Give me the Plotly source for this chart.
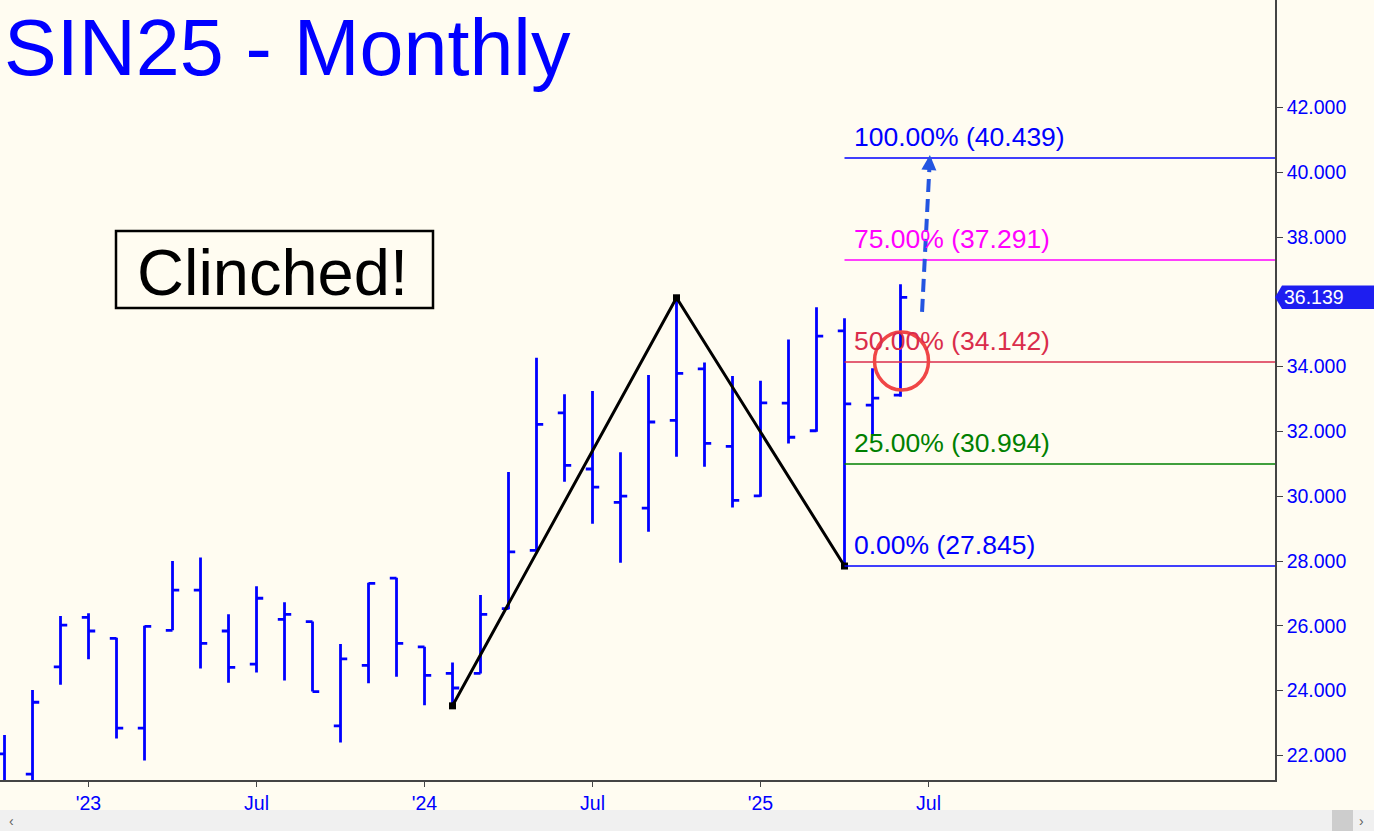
import plotly.graph_objects as go

# monthly bars, SIN25 (silver, July 2025)
months = ["2022-10", "2022-11", "2022-12",
          "2023-01", "2023-02", "2023-03", "2023-04", "2023-05", "2023-06",
          "2023-07", "2023-08", "2023-09", "2023-10", "2023-11", "2023-12",
          "2024-01", "2024-02", "2024-03", "2024-04", "2024-05", "2024-06",
          "2024-07", "2024-08", "2024-09", "2024-10", "2024-11", "2024-12",
          "2025-01", "2025-02", "2025-03", "2025-04", "2025-05", "2025-06"]
opens = [22.05, 21.42, 24.73,
         26.26, 25.61, 22.84, 25.86, 27.10, 25.84,
         24.82, 26.20, 26.13, 22.91, 24.78, 27.47,
         25.35, 24.53, 24.53, 26.53, 28.33, 32.57,
         30.84, 29.81, 29.63, 32.34, 33.93, 31.54,
         30.01, 32.87, 32.02, 35.10, 32.81, 33.12]
highs = [22.63, 24.02, 26.30,
         26.39, 25.63, 26.00, 28.00, 28.11, 26.36,
         27.22, 26.73, 26.13, 25.44, 27.33, 27.48,
         25.35, 24.87, 26.95, 30.75, 34.27, 33.15,
         33.25, 31.36, 33.74, 36.124, 34.13, 33.71,
         33.56, 34.84, 35.83, 35.49, 33.95, 36.54]
lows = [21.00, 21.10, 24.18,
        24.97, 22.52, 21.84, 25.86, 24.68, 24.24,
        24.56, 24.31, 23.97, 22.40, 24.23, 24.43,
        23.55, 23.53, 24.53, 26.51, 28.32, 30.45,
        29.15, 27.95, 28.90, 31.22, 30.91, 29.65,
        29.98, 31.63, 31.99, 27.845, 31.89, 33.07]
closes = [21.20, 23.64, 26.02,
          25.84, 22.84, 25.98, 27.10, 25.46, 24.72,
          26.85, 26.35, 23.97, 24.98, 27.31, 25.46,
          24.47, 24.08, 26.35, 28.28, 32.22, 30.95,
          30.28, 30.00, 32.29, 33.79, 31.63, 29.87,
          32.88, 31.82, 34.94, 32.85, 33.03, 36.139]

# swing points of the ABC pattern
swing_a, swing_b, swing_c = "2024-02", "2024-10", "2025-04"

fib_pcts = ["0.00%", "25.00%", "50.00%", "75.00%", "100.00%"]
fib_values = [27.845, 30.994, 34.142, 37.291, 40.439]
fib_colors = ["#0000FF", "#008000", "rgb(218,45,75)", "#FF00FF", "#0000FF"]

tick_months = ["2023-01", "2023-07", "2024-01", "2024-07", "2025-01", "2025-07"]
tick_text = ["'23", "Jul", "'24", "Jul", "'25", "Jul"]
# 36.000 sits under the last-price tag
y_ticks = [22, 24, 26, 28, 30, 32, 34, 38, 40, 42]

FONT = "Liberation Sans, Arial, sans-serif"
BG = "#FFFCF1"
BLUE = "#0000FF"
X0, X1 = -3.161, 42.375
Y0, Y1 = 21.241, 45.315


def month_index(m):
    y, mo = map(int, m.split("-"))
    return (y - 2023) * 12 + mo - 1


def yp(v):
    return (v - Y0) / (Y1 - Y0)


x = [month_index(m) for m in months]
ia, ib, ic = months.index(swing_a), months.index(swing_b), months.index(swing_c)
x_last = x[-1]

fig = go.Figure()

fig.add_trace(go.Ohlc(
    x=x, open=opens, high=highs, low=lows, close=closes,
    increasing=dict(line=dict(color=BLUE, width=2.8)),
    decreasing=dict(line=dict(color=BLUE, width=2.8)),
    tickwidth=0.24,
    showlegend=False,
    hoverinfo="skip",
))

# A-B-C swing line
fig.add_trace(go.Scatter(
    x=[x[ia], x[ib], x[ic]],
    y=[lows[ia], highs[ib], lows[ic]],
    mode="lines+markers",
    line=dict(color="black", width=3),
    marker=dict(symbol="square", size=7, color="black"),
    showlegend=False,
    hoverinfo="skip",
))

shapes = []
annotations = []

# fib lines + labels
for pct, val, col in zip(fib_pcts, fib_values, fib_colors):
    shapes.append(dict(type="line", xref="x", yref="y", x0=x[ic], x1=X1,
                       y0=val, y1=val, line=dict(color=col, width=1.6)))
    annotations.append(dict(
        x=x[ic], y=val, xref="x", yref="y", xanchor="left", yanchor="bottom",
        xshift=7, yshift=4, showarrow=False, text=f"{pct} ({val:.3f})",
        font=dict(family=FONT, size=26.5, color=col)))

# red circle round the 50% retrace
shapes.append(dict(type="circle", xref="x", yref="y",
                   xsizemode="pixel", ysizemode="pixel",
                   xanchor=x_last, yanchor=fib_values[2],
                   x0=-26, x1=28, y0=-28, y1=30,
                   line=dict(color="rgb(240,70,70)", width=3.5)))

# dashed projection arrow
arrow_col = "rgb(35,85,225)"
shapes.append(dict(type="line", xref="x", yref="y",
                   x0=x_last + 0.77, y0=35.69, x1=x_last + 1.03, y1=40.1,
                   line=dict(color=arrow_col, width=4, dash="13px,7px")))
annotations.append(dict(x=x_last + 1.05, y=40.53, xref="x", yref="y",
                        ax=-1, ay=15, showarrow=True, text="",
                        arrowhead=2, arrowwidth=4, arrowsize=0.75,
                        arrowcolor=arrow_col))

# "Clinched!" box
shapes.append(dict(type="rect", xref="paper", yref="paper",
                   x0=116 / 1275, x1=433 / 1275, y0=1 - 308 / 780, y1=1 - 231 / 780,
                   line=dict(color="black", width=2.5), fillcolor=BG))
annotations.append(dict(x=272 / 1275, y=1 - 272 / 780, xref="paper", yref="paper",
                        xanchor="center", yanchor="middle", showarrow=False,
                        text="Clinched!", font=dict(family=FONT, size=65, color="black")))

# title
annotations.append(dict(x=0, y=1, xref="paper", yref="paper", xanchor="left",
                        yanchor="top", xshift=2, yshift=-1, showarrow=False,
                        text="SIN25 - Monthly",
                        font=dict(family=FONT, size=79, color=BLUE)))

# last price tag on the axis
yc = yp(closes[-1])
h = 11.75 / 780
shapes.append(dict(type="path", xref="paper", yref="paper", layer="above",
                   path=f"M 1,{yc} L 1.0055,{yc + h} L 1.09,{yc + h} L 1.09,{yc - h} L 1.0055,{yc - h} Z",
                   fillcolor="rgb(30,30,240)", line=dict(width=0)))
annotations.append(dict(x=1.0055, y=yc, xref="paper", yref="paper", xanchor="left",
                        yanchor="middle", xshift=0, showarrow=False,
                        text=f"{closes[-1]:.3f}",
                        font=dict(family=FONT, size=19.5, color="white")))

# scrollbar strip at the bottom
sb0, sb1 = -30 / 780, -52 / 780
shapes.append(dict(type="rect", xref="paper", yref="paper", x0=-0.01, x1=1.09,
                   y0=sb1, y1=sb0, fillcolor="#F0F0F0", line=dict(width=0), layer="below"))
shapes.append(dict(type="rect", xref="paper", yref="paper", x0=1332 / 1275, x1=1353 / 1275,
                   y0=sb1, y1=sb0, fillcolor="#CDCDCD", line=dict(width=0)))
for tx, xx in [("‹", 12 / 1275), ("›", 1362 / 1275)]:
    annotations.append(dict(x=xx, y=-40.5 / 780, xref="paper", yref="paper",
                            xanchor="center", yanchor="middle", showarrow=False, text=tx,
                            borderpad=0,
                            font=dict(family=FONT, size=14, color="#606060")))

fig.update_layout(
    width=1374, height=831,
    margin=dict(l=0, r=99, t=0, b=51),
    paper_bgcolor=BG, plot_bgcolor=BG,
    showlegend=False,
    shapes=shapes,
    annotations=annotations,
    xaxis=dict(
        range=[X0, X1], showgrid=False, zeroline=False,
        rangeslider=dict(visible=False),
        tickmode="array", tickvals=[month_index(m) for m in tick_months], ticktext=tick_text,
        ticks="outside", ticklen=5, tickcolor="#444", tickwidth=1,
        showline=True, linecolor="#444", linewidth=2,
        tickfont=dict(family=FONT, size=19.5, color=BLUE),
    ),
    yaxis=dict(
        range=[Y0, Y1], side="right", showgrid=False, zeroline=False,
        tickmode="array", tickvals=y_ticks, tickformat=".3f",
        ticks="outside", ticklen=6, tickcolor="#444", tickwidth=1,
        showline=True, linecolor="#444", linewidth=1.5,
        tickfont=dict(family=FONT, size=19.5, color=BLUE),
    ),
)

fig.write_html("out.html", config={"displayModeBar": False},
               post_script="document.body.style.margin='0';")
